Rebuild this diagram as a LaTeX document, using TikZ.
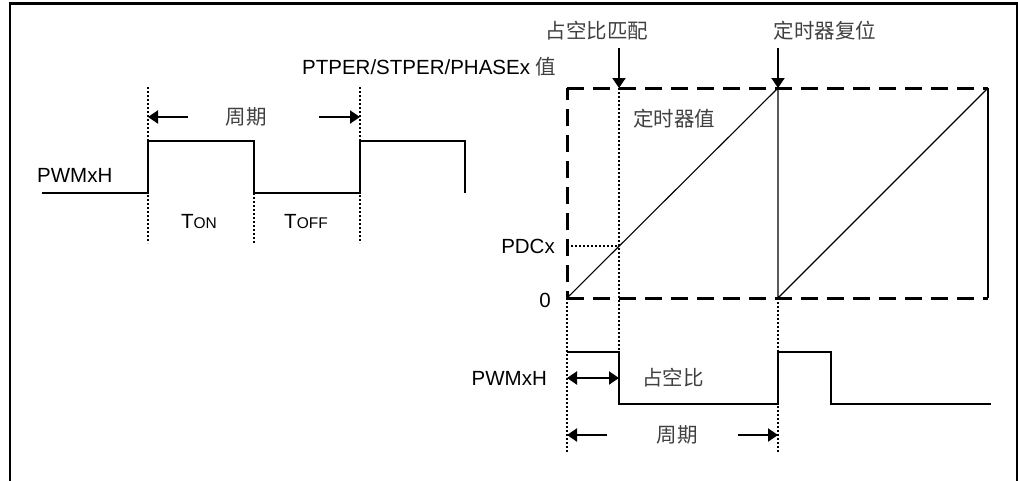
\documentclass[tikz,border=0pt]{standalone}
\usepackage{fontspec}
\setmainfont{Liberation Sans}
\newfontfamily\cjk{Noto Sans CJK SC}
\usetikzlibrary{arrows.meta}
\tikzset{
  sig/.style={line width=2pt},
  dotl/.style={line width=1.7pt, dash pattern=on 1.7pt off 2.3pt},
  dashl/.style={line width=3pt, dash pattern=on 17pt off 9pt},
  thinl/.style={line width=1.1pt},
  arr/.style={line width=2pt, -{Triangle[length=10pt,width=13pt]}},
  darr/.style={line width=2pt, {Triangle[length=10pt,width=13pt]}-{Triangle[length=10pt,width=13pt]}},
  lbl/.style={inner sep=0pt, font=\fontsize{20.5}{24}\selectfont},
  cjklbl/.style={inner sep=0pt, font=\cjk\fontsize{20.5}{24}\selectfont, text=black!75},
}
\newcommand{\smallcap}[1]{{\fontsize{15.5}{18}\selectfont #1}}
\begin{document}
\begin{tikzpicture}[x=1pt,y=-1pt]
\useasboundingbox (0,0) rectangle (1018,480);
% frame (open at bottom)
\coordinate (fbl) at (10,482);
\coordinate (ftl) at (10,3.3);
\coordinate (ftr) at (1017,3.3);
\coordinate (fbr) at (1017,482);
\draw[line width=2.4pt] (fbl) -- (ftl) -- (ftr) -- (fbr);

% ---------- left diagram ----------
\node[lbl, anchor=west] (pwm1) at (37,175) {PWMxH};
\coordinate (a0) at (42,193);
\coordinate (a1) at (148,193);
\coordinate (a2) at (148,141);
\coordinate (a3) at (254,141);
\coordinate (a4) at (254,193);
\coordinate (a5) at (360,193);
\coordinate (a6) at (360,141);
\coordinate (a7) at (465,141);
\coordinate (a8) at (465,193);
\draw[sig] (a0) -- (a1) -- (a2) -- (a3) -- (a4) -- (a5) -- (a6) -- (a7) -- (a8);
\coordinate (d1t) at (148,87);  \coordinate (d1b) at (148,243);
\coordinate (d2t) at (254,193); \coordinate (d2b) at (254,243);
\coordinate (d3t) at (360,87);  \coordinate (d3b) at (360,243);
\draw[dotl] (d1t) -- (d1b);
\draw[dotl] (d2t) -- (d2b);
\draw[dotl] (d3t) -- (d3b);
\node[cjklbl] (per1) at (246,117) {周期};
\coordinate (p1l) at (188,117);
\coordinate (p1r) at (319,117);
\coordinate (p1lt) at (148,117);
\coordinate (p1rt) at (360,117);
\draw[arr] (p1l) -- (p1lt);
\draw[arr] (p1r) -- (p1rt);
\node[lbl] (ton) at (199,222) {T\smallcap{ON}};
\node[lbl] (toff) at (306,222) {T\smallcap{OFF}};
\node[lbl, anchor=west] (ptper) at (302,67) {PTPER/STPER/PHASEx {\cjk\color{black!75}值}};

% ---------- right diagram ----------
\coordinate (o) at (567,298);
\coordinate (otop) at (567,88);
\coordinate (r1t) at (778,88);
\coordinate (r1b) at (778,298);
\coordinate (r2t) at (988,88);
\coordinate (r2b) at (988,298);
\coordinate (mt) at (619,88);
\coordinate (mp) at (619,246);
\coordinate (pl) at (567,246);
\draw[dashl] (otop) -- (r2t);
\draw[dashl] (o) -- (r2b);
\draw[dashl, dash phase=10pt] (o) -- (otop);
\draw[line width=2pt] (r2t) -- (r2b);
\draw[thinl] (o) -- (r1t) -- (r1b) -- (r2t);
\draw[dotl] (pl) -- (mp);
\node[lbl, anchor=east] (pdcx) at (555,246) {PDCx};
\node[lbl, anchor=east] (zero) at (551,300) {0};
\node[cjklbl, anchor=west] (tval) at (633,119) {定时器值};

% top arrows
\node[cjklbl] (match) at (597,31) {占空比匹配};
\node[cjklbl] (reset) at (825,31) {定时器复位};
\coordinate (mts) at (619,48);
\coordinate (rts) at (778,48);
\draw[arr] (mts) -- (mt);
\draw[arr] (rts) -- (r1t);

% bottom PWM
\coordinate (b0) at (567,352);
\coordinate (b1) at (619,352);
\coordinate (b2) at (619,404);
\coordinate (b3) at (778,404);
\coordinate (b4) at (778,352);
\coordinate (b5) at (831,352);
\coordinate (b6) at (831,404);
\coordinate (b7) at (991,404);
\draw[sig] (b0) -- (b1) -- (b2) -- (b3) -- (b4) -- (b5) -- (b6) -- (b7);
\coordinate (vob) at (567,453);
\coordinate (vrb) at (778,453);
\draw[dotl] (o) -- (vob);
\draw[dotl] (r1b) -- (vrb);
\draw[dotl] (mt) -- (b1);
\node[lbl, anchor=east] (pwm2) at (547,378) {PWMxH};
\coordinate (dl) at (567,378);
\coordinate (dr) at (619,378);
\draw[darr] (dl) -- (dr);
\node[cjklbl] (duty) at (673,378) {占空比};
\node[cjklbl] (per2) at (677,435) {周期};
\coordinate (q1l) at (607,435);
\coordinate (q1lt) at (567,435);
\coordinate (q1r) at (738,435);
\coordinate (q1rt) at (778,435);
\draw[arr] (q1l) -- (q1lt);
\draw[arr] (q1r) -- (q1rt);
\end{tikzpicture}
\end{document}
